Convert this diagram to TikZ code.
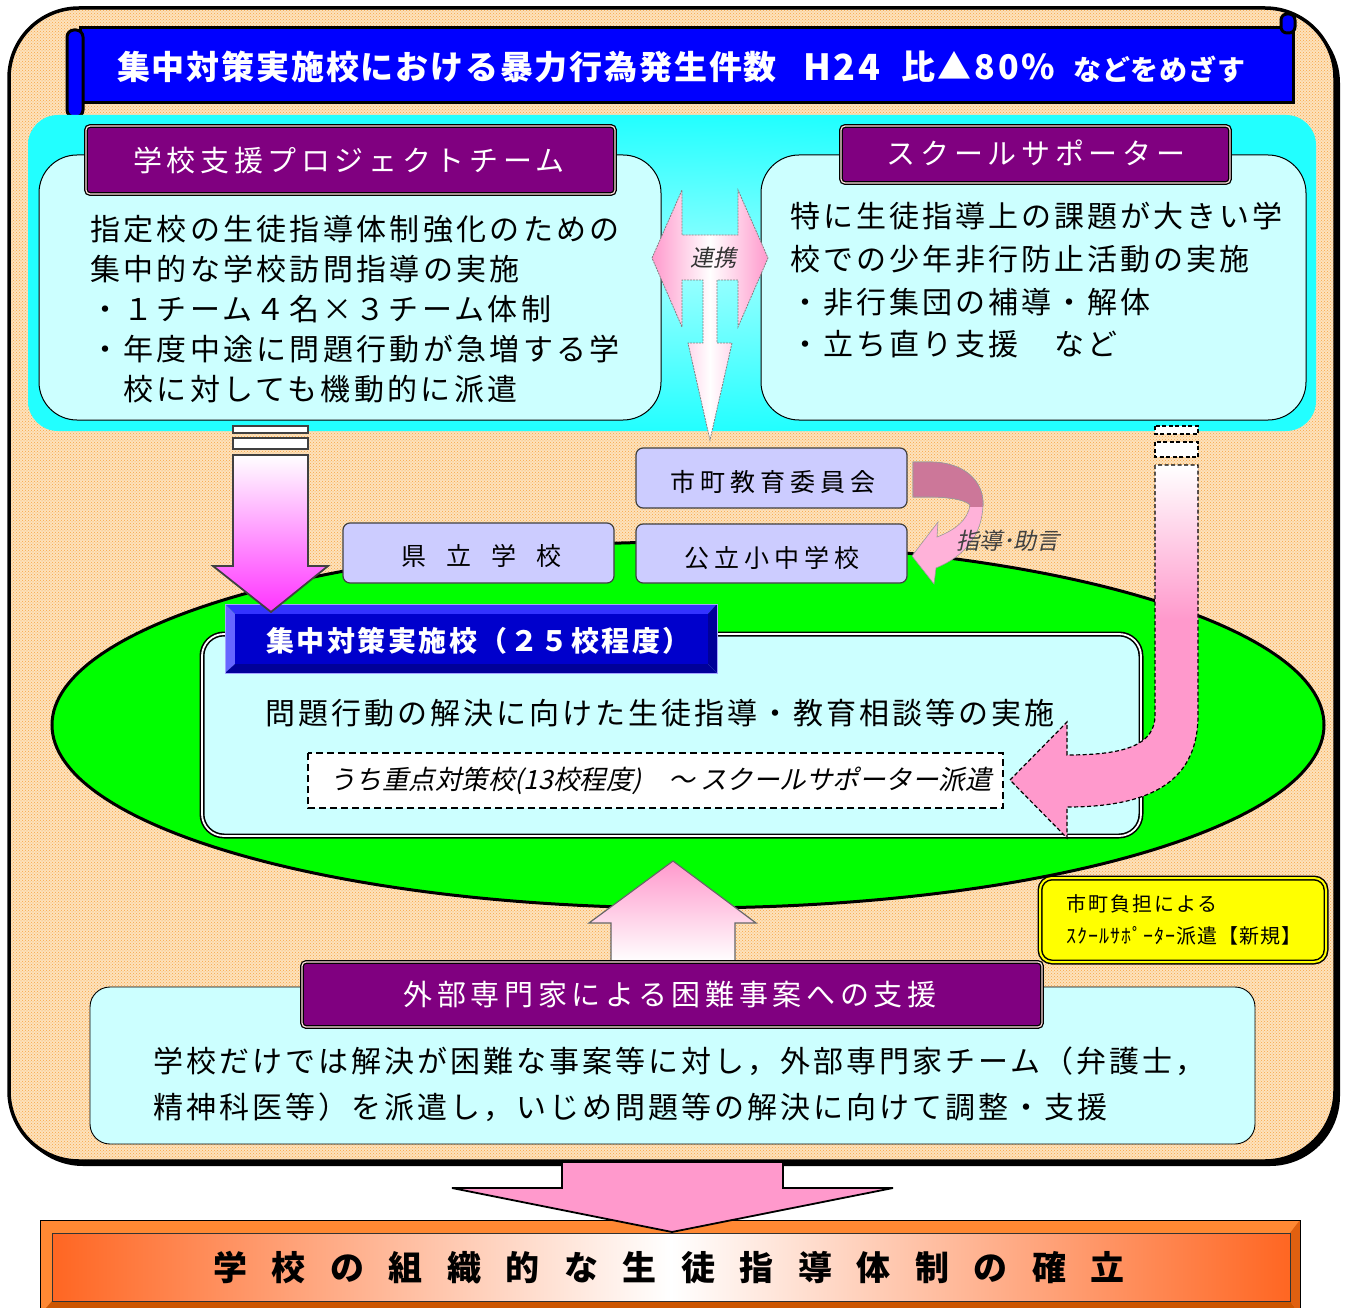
\documentclass[tikz,border=0pt]{standalone}
\usepackage{fontspec}
\usepackage{graphicx}
\usetikzlibrary{patterns,shadings}
\newfontfamily\jp{Noto Sans CJK JP}
\newfontfamily\jpit{Noto Sans CJK JP}[FakeSlant=0.22]
\newcommand\myfs[1]{\fontsize{#1}{#1}\selectfont}
\newcommand\myls[1]{\addfontfeatures{LetterSpace=#1}}
\definecolor{bgdot}{HTML}{F7A444}
\definecolor{bgbase}{HTML}{FDE2BC}
\definecolor{cyanband}{HTML}{22FFFF}
\definecolor{lcyan}{HTML}{CCFFFF}
\definecolor{purp}{HTML}{800080}
\definecolor{lav}{HTML}{CCCCFF}
\definecolor{pinkA}{HTML}{FF99CC}
\definecolor{mag}{HTML}{FF33FF}
\definecolor{mauve}{HTML}{CC7799}
\definecolor{grn}{HTML}{00FF00}
\definecolor{ylw}{HTML}{FFFF00}
\definecolor{orA}{HTML}{FF8833}
\definecolor{orB}{HTML}{FF6622}
\definecolor{orR}{HTML}{E06010}
\definecolor{orD}{HTML}{CC5500}
\definecolor{bevL}{HTML}{6666FF}
\definecolor{bevT}{HTML}{3333FF}
\definecolor{bevD}{HTML}{000099}
\definecolor{bevC}{HTML}{0000CC}
\tikzset{
 txt/.style={inner sep=0pt, anchor=west, font=\jp\myfs{30}\myls{10}},
 hdrbox/.style={fill=purp, draw=black, line width=1.3pt, double=pink!50, double distance=1.2pt, rounded corners=4pt},
 hdrtxt/.style={inner sep=0pt, text=white, font=\jp\myfs{29}\myls{16}},
 bodybox/.style={fill=lcyan, draw=black, line width=1pt, rounded corners=38pt},
 lavbox/.style={fill=lav, draw=black!75, line width=1.2pt, rounded corners=7pt},
 lavtxt/.style={inner sep=0pt, font=\jp\myfs{25}\myls{20}},
 toptxt/.style={inner sep=0pt, anchor=west, text=white},
 dasharrow/.style={draw=black, line width=1.2pt, dash pattern=on 4pt off 2.5pt},
}
\begin{document}
\begin{tikzpicture}[x=1pt,y=-1pt]
\useasboundingbox (0,0) rectangle (1345,1308);
% outer frame
\fill[black, rounded corners=70pt] (13,13) rectangle (1340,1166);
\fill[bgbase, rounded corners=70pt] (9,8) rectangle (1335,1161);
\fill[pattern=crosshatch dots, pattern color=bgdot, rounded corners=70pt] (9,8) rectangle (1335,1161);
\draw[line width=3.5pt, rounded corners=70pt] (9,8) rectangle (1335,1161);
% top banner
\draw[fill=blue, line width=3pt] (80,28) rectangle (1293,103);
\draw[fill=blue, line width=3pt, rounded corners=7pt] (67,30) rectangle (83,117);
\draw[fill=blue, line width=3pt, rounded corners=6pt] (1281,14) rectangle (1295,33);
\node[toptxt, font=\jp\bfseries\myfs{33}\myls{5.5}] (t1) at (117,67) {集中対策実施校における暴力行為発生件数};
\node[toptxt, font=\jp\bfseries\myfs{36}\myls{8}] (t2) at (803,67) {H24};
\node[toptxt, font=\jp\bfseries\myfs{34}\myls{8}] (t3) at (901,67) {比▲80\%};
\node[toptxt, font=\jp\bfseries\myfs{28}\myls{3}] (t4) at (1073,69) {などをめざす};
% cyan band
\shade[rounded corners=30pt, inner color=cyanband!45!white, outer color=cyanband] (28,115) rectangle (1316,431);
% left box
\draw[bodybox] (39,155) rectangle (661,420);
\draw[hdrbox] (86,126) rectangle (615,194);
\node[hdrtxt] (h1) at (349,160) {学校支援プロジェクトチーム};
\node[txt, font=\jp\myfs{30}\myls{11}] (l1) at (90,229) {指定校の生徒指導体制強化のための};
\node[txt, font=\jp\myfs{30}\myls{11}] (l2) at (90,269) {集中的な学校訪問指導の実施};
\node[txt, font=\jp\myfs{30}\myls{11}] (l3) at (90,309) {・１チーム４名×３チーム体制};
\node[txt, font=\jp\myfs{30}\myls{11}] (l4) at (90,349) {・年度中途に問題行動が急増する学};
\node[txt, font=\jp\myfs{30}\myls{11}] (l5) at (90,389) {　校に対しても機動的に派遣};
% right box
\draw[bodybox] (761,155) rectangle (1306,420);
\draw[hdrbox] (841,126) rectangle (1230,183);
\node[hdrtxt] (h2) at (1036,153) {スクールサポーター};
\node[txt] (r1) at (790,216) {特に生徒指導上の課題が大きい学};
\node[txt] (r2) at (790,259) {校での少年非行防止活動の実施};
\node[txt] (r3) at (790,302) {・非行集団の補導・解体};
\node[txt] (r4) at (790,344) {・立ち直り支援　など};
% renkei arrow
\shade[left color=pinkA, right color=pinkA, middle color=white, draw=black!50, dash pattern=on 2pt off 1pt, line width=0.8pt]
 (652,258) -- (682,190) -- (682,235) -- (738,235) -- (738,190) -- (768,258) -- (738,327) -- (738,280) -- (717,280) -- (717,343) -- (732,343) -- (710,440) -- (688,343) -- (703,343) -- (703,280) -- (682,280) -- (682,327) -- cycle;
\node[inner sep=0pt, font=\jpit\myfs{23}, text=black!80] (rk) at (713,258) {連携};
% green ellipse
\draw[fill=grn, line width=3pt] (688,725) ellipse [x radius=636, y radius=183];
% lavender boxes
\draw[lavbox] (343,523) rectangle (614,583);
\node[lavtxt, font=\jp\myfs{25}\myls{80}] (kr) at (481,556) {県立学校};
\draw[lavbox] (636,448) rectangle (907,508);
\node[lavtxt] (sk) at (773,482) {市町教育委員会};
\draw[lavbox] (636,524) rectangle (907,583);
\node[lavtxt] (ko) at (772,558) {公立小中学校};
% shido arrow
\fill[pinkA!75, draw=black!40, line width=0.6pt]
 (913,462) -- (930,462) .. controls (965,462) and (984,482) .. (983,505) .. controls (982,535) and (965,556) .. (936,568) -- (934,584) -- (912,556) -- (938,522) -- (937,537) .. controls (955,530) and (968,520) .. (970,505) .. controls (965,499) and (945,497) .. (930,497) -- (913,497) -- cycle;
\begin{scope}
\clip (900,440) rectangle (1000,506);
\fill[mauve, draw=black!40, line width=0.6pt]
 (913,462) -- (930,462) .. controls (965,462) and (984,482) .. (983,505) .. controls (982,535) and (965,556) .. (936,568) -- (934,584) -- (912,556) -- (938,522) -- (937,537) .. controls (955,530) and (968,520) .. (970,505) .. controls (965,499) and (945,497) .. (930,497) -- (913,497) -- cycle;
\end{scope}
\node[inner sep=0pt, font=\jpit\myfs{23}, text=black!75] (sj) at (1008,541) {指導･助言};
% inner box
\draw[fill=lcyan, draw=black, line width=1.6pt, double=white, double distance=1.8pt, rounded corners=22pt] (202,634) rectangle (1141,836);
% blue bevel header
\fill[bevT] (225,604) -- (717,604) -- (708,614) -- (235,614) -- cycle;
\fill[bevL] (225,604) -- (235,614) -- (235,664) -- (225,673) -- cycle;
\fill[bevD] (717,604) -- (717,673) -- (708,664) -- (708,614) -- cycle;
\fill[bevD] (225,673) -- (717,673) -- (708,664) -- (235,664) -- cycle;
\fill[bevC] (235,614) rectangle (708,664);
\draw[bevL!60!white, line width=0.8pt] (225,604) rectangle (717,673);
\node[inner sep=0pt, anchor=west, text=white, font=\jp\bfseries\myfs{28}\myls{9}] (ht) at (266,641) {集中対策実施校（２５校程度）};
% left down arrow
\draw[fill=white, draw=black!75, line width=1.5pt] (233,426) rectangle (308,433);
\draw[fill=white, draw=black!75, line width=1.5pt] (233,438) rectangle (308,449);
\shade[top color=white, bottom color=mag, draw=black!75, line width=1.8pt] (233,455) -- (308,455) -- (308,566) -- (328,566) -- (271,612) -- (213,566) -- (233,566) -- cycle;
% inner texts
\node[txt] (m1) at (265,713) {問題行動の解決に向けた生徒指導・教育相談等の実施};
\draw[fill=white, draw=black, line width=1.5pt, dash pattern=on 7pt off 4pt] (308,753) rectangle (1003,808);
\node[inner sep=0pt, anchor=west, font=\jpit\myfs{26.5}] (m2) at (329,781) {うち重点対策校(13校程度)　～ スクールサポーター派遣};
% right dashed arrow
\draw[fill=white, dasharrow] (1155,426) rectangle (1198,434);
\draw[fill=white, dasharrow] (1155,442) rectangle (1198,457);
\fill[pinkA] (1155,465) -- (1155,715) .. controls (1155,745) and (1125,755) .. (1067,755) -- (1067,722) -- (1010,780) -- (1067,838) -- (1067,807) .. controls (1160,807) and (1198,775) .. (1198,715) -- (1198,465) -- cycle;
\shade[top color=white, bottom color=pinkA] (1155,465) rectangle (1198,620);
\draw[dasharrow] (1155,465) -- (1155,715) .. controls (1155,745) and (1125,755) .. (1067,755) -- (1067,722) -- (1010,780) -- (1067,838) -- (1067,807) .. controls (1160,807) and (1198,775) .. (1198,715) -- (1198,465) -- cycle;
% up arrow
\shade[top color=pinkA, bottom color=white, draw=black!60, line width=1.2pt] (611,962) -- (611,923) -- (589,923) -- (673,861) -- (756,923) -- (735,923) -- (735,962) -- cycle;
% yellow box
\draw[fill=ylw, draw=black, line width=1.5pt, double=ylw, double distance=2pt, rounded corners=12pt] (1040,878) rectangle (1326,962);
\node[inner sep=0pt, anchor=west, font=\jp\myfs{20}\myls{10}] (y1) at (1066,904) {市町負担による};
\node[inner sep=0pt, anchor=west, font=\jp\myfs{20}\myls{5}] (y2) at (1066,936) {ｽｸｰﾙｻﾎﾟｰﾀｰ派遣【新規】};
% bottom box
\draw[fill=lcyan, draw=black, line width=0.9pt, rounded corners=20pt] (90,987) rectangle (1255,1144);
\draw[hdrbox] (302,962) rectangle (1042,1027);
\node[hdrtxt] (h3) at (670,995) {外部専門家による困難事案への支援};
\node[txt, font=\jp\myfs{30}\myls{10}] (b1) at (153,1061) {学校だけでは解決が困難な事案等に対し，外部専門家チーム（弁護士，};
\node[txt, font=\jp\myfs{30}\myls{10}] (b2) at (153,1107) {精神科医等）を派遣し，いじめ問題等の解決に向けて調整・支援};
% bottom banner
\fill[orA] (40,1220) rectangle (1300,1315);
\fill[orD] (40,1315) -- (52,1301) -- (1290,1301) -- (1300,1315) -- cycle;
\fill[orR] (1300,1220) -- (1290,1233) -- (1290,1301) -- (1300,1315) -- cycle;
\shade[left color=orB, right color=white] (52,1233) rectangle (671,1301);
\shade[left color=white, right color=orB] (671,1233) rectangle (1290,1301);
\draw[black!80, line width=0.8pt] (52,1233) rectangle (1290,1301);
\draw[black, line width=1pt] (40,1220) rectangle (1300,1315);
\node[inner sep=0pt, text=black, font=\jp\bfseries\myfs{34}\myls{72}] (bt) at (669,1268) {学校の組織的な生徒指導体制の確立};
% bottom arrow
\draw[fill=pinkA, line width=1.8pt, line join=miter] (562,1162) -- (783,1162) -- (783,1188) -- (893,1188) -- (672,1232) -- (452,1188) -- (562,1188) -- cycle;
\end{tikzpicture}
\end{document}
